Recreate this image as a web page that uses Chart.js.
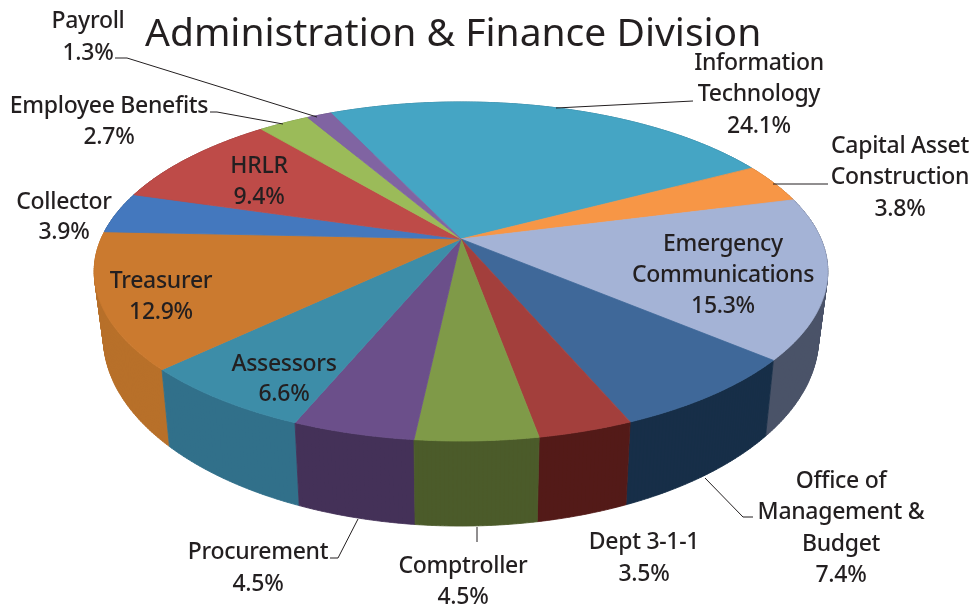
<!DOCTYPE html>
<html><head><meta charset="utf-8">
<style>html,body{margin:0;padding:0;background:#fff}canvas{display:block}</style>
<script src="https://cdn.jsdelivr.net/npm/chart.js@4/dist/chart.umd.min.js"></script>
</head><body><canvas id="c" width="974" height="608"></canvas>
<script>
const titleText = 'Administration & Finance Division';
const categories = ['Information Technology','Capital Asset Construction','Emergency Communications','Office of Management & Budget','Dept 3-1-1','Comptroller','Procurement','Assessors','Treasurer','Collector','HRLR','Employee Benefits','Payroll'];
const shares = [24.1,3.8,15.3,7.4,3.5,4.5,4.5,6.6,12.9,3.9,9.4,2.7,1.3];
const topColors = ['#45A5C4','#F79646','#A4B3D6','#3F6899','#A33F3C','#7F9A48','#6B4F8A','#3D8DA8','#CB7A2F','#4478BE','#BE4B48','#9BBB59','#8064A2'];
const wallColors = ['#2F6F85','#A86A2E','#4A5368','#172E48','#531A18','#4B5B2A','#443158','#31708A','#B87029','#2E5488','#7E3230','#67803A','#55426E'];
const labelLines = [['Information','Technology'],['Capital Asset','Construction'],['Emergency','Communications'],['Office of','Management &','Budget'],['Dept 3-1-1'],['Comptroller'],['Procurement'],['Assessors'],['Treasurer'],['Collector'],['HRLR'],['Employee Benefits'],['Payroll']];
const labelX = [759,900,723,841,644,463,258,284,161,64,259,109,88];
const labelTop = [63,146,244,481,542,566,552,364,281,202,166,106,21];
const labelStep = [31.5,31.5,31,31.5,32,31,32,30,31,30,31,31,32];
const leaders = [
  [[556,108],[693,101]],
  [[773,184],[828,184]],
  [[705,478],[743,517],[753,517]],
  [[477,527],[477,542]],
  [[358,519],[338,558],[330,558]],
  [[283,124],[217,112],[210,112]],
  [[317,117],[127,58],[115,58]]
];
const cx = 461, cy = 239, Rx = 360, Ry = 163.3, K = 0.1917;
const wallSx = 0.975, wallSy = 1.114, wallDrop = 62;
function rim(a){
  const u = Math.cos(a), v = Math.sin(a), w = 1 - K*v;
  return [Rx*u/w, Ry*v/w];
}
function topPt(a){const p = rim(a); return [cx+p[0], cy+p[1]];}
function lowPt(a){const p = rim(a); return [cx+wallSx*p[0], cy+wallDrop+wallSy*p[1]];}
function steps(s,e){const n = Math.max(2,Math.ceil((e-s)/0.01)); const r=[]; for(let i=0;i<=n;i++) r.push(s+(e-s)*i/n); return r;}
function area(q){let s=0; q.forEach((p,i)=>{const n=q[(i+1)%q.length]; s+=p[0]*n[1]-n[0]*p[1];}); return s;}
function addPoly(ctx,pts){pts.forEach((p,i)=> i?ctx.lineTo(p[0],p[1]):ctx.moveTo(p[0],p[1])); ctx.closePath();}
function finish(ctx,color){ctx.fillStyle=color; ctx.fill('nonzero'); ctx.strokeStyle=color; ctx.lineWidth=0.8; ctx.lineJoin='round'; ctx.stroke();}
const pie3d = {
  id:'pie3d',
  beforeDatasetsDraw(chart){
    const ctx = chart.ctx, arcs = chart.getDatasetMeta(0).data;
    ctx.save();
    const order = arcs.map((a,i)=>i).sort((p,q)=>Math.sin((arcs[p].startAngle+arcs[p].endAngle)/2)-Math.sin((arcs[q].startAngle+arcs[q].endAngle)/2));
    order.forEach(i=>{
      const as = steps(arcs[i].startAngle,arcs[i].endAngle);
      ctx.beginPath();
      for(let j=0;j<as.length-1;j++){
        let q=[topPt(as[j]),topPt(as[j+1]),lowPt(as[j+1]),lowPt(as[j])];
        if(area(q)<0) q=q.reverse();
        addPoly(ctx,q);
      }
      finish(ctx,wallColors[i]);
    });
    arcs.forEach((arc,i)=>{
      const as = steps(arc.startAngle,arc.endAngle);
      ctx.beginPath();
      addPoly(ctx,[[cx,cy]].concat(as.map(topPt)));
      finish(ctx,topColors[i]);
    });
    ctx.restore();
    return false;
  },
  afterDraw(chart){
    const ctx = chart.ctx;
    ctx.save();
    ctx.strokeStyle='#231F20'; ctx.lineWidth=1;
    leaders.forEach(l=>{ctx.beginPath(); l.forEach((p,i)=> i?ctx.lineTo(p[0],p[1]):ctx.moveTo(p[0],p[1])); ctx.stroke();});
    ctx.fillStyle='#231F20'; ctx.textAlign='center'; ctx.textBaseline='middle';
    ctx.font='500 23px "Noto Sans"';
    ctx.letterSpacing='-0.3px';
    categories.forEach((c,i)=>{
      const lines = labelLines[i].concat([shares[i].toFixed(1)+'%']);
      lines.forEach((t,j)=>ctx.fillText(t,labelX[i],labelTop[i]+j*labelStep[i]));
    });
    ctx.restore();
  }
};
new Chart(document.getElementById('c'),{
  type:'pie',
  data:{labels:categories,datasets:[{data:shares,backgroundColor:topColors,borderWidth:0}]},
  options:{
    responsive:false,animation:false,rotation:-25.1,
    layout:{padding:{left:145}},
    plugins:{
      legend:{display:false},tooltip:{enabled:false},
      title:{display:true,text:titleText,align:'start',color:'#231F20',font:{family:'"Noto Sans"',size:39,weight:'normal'},padding:{top:11,bottom:0}}
    }
  },
  plugins:[pie3d]
});
</script></body></html>
